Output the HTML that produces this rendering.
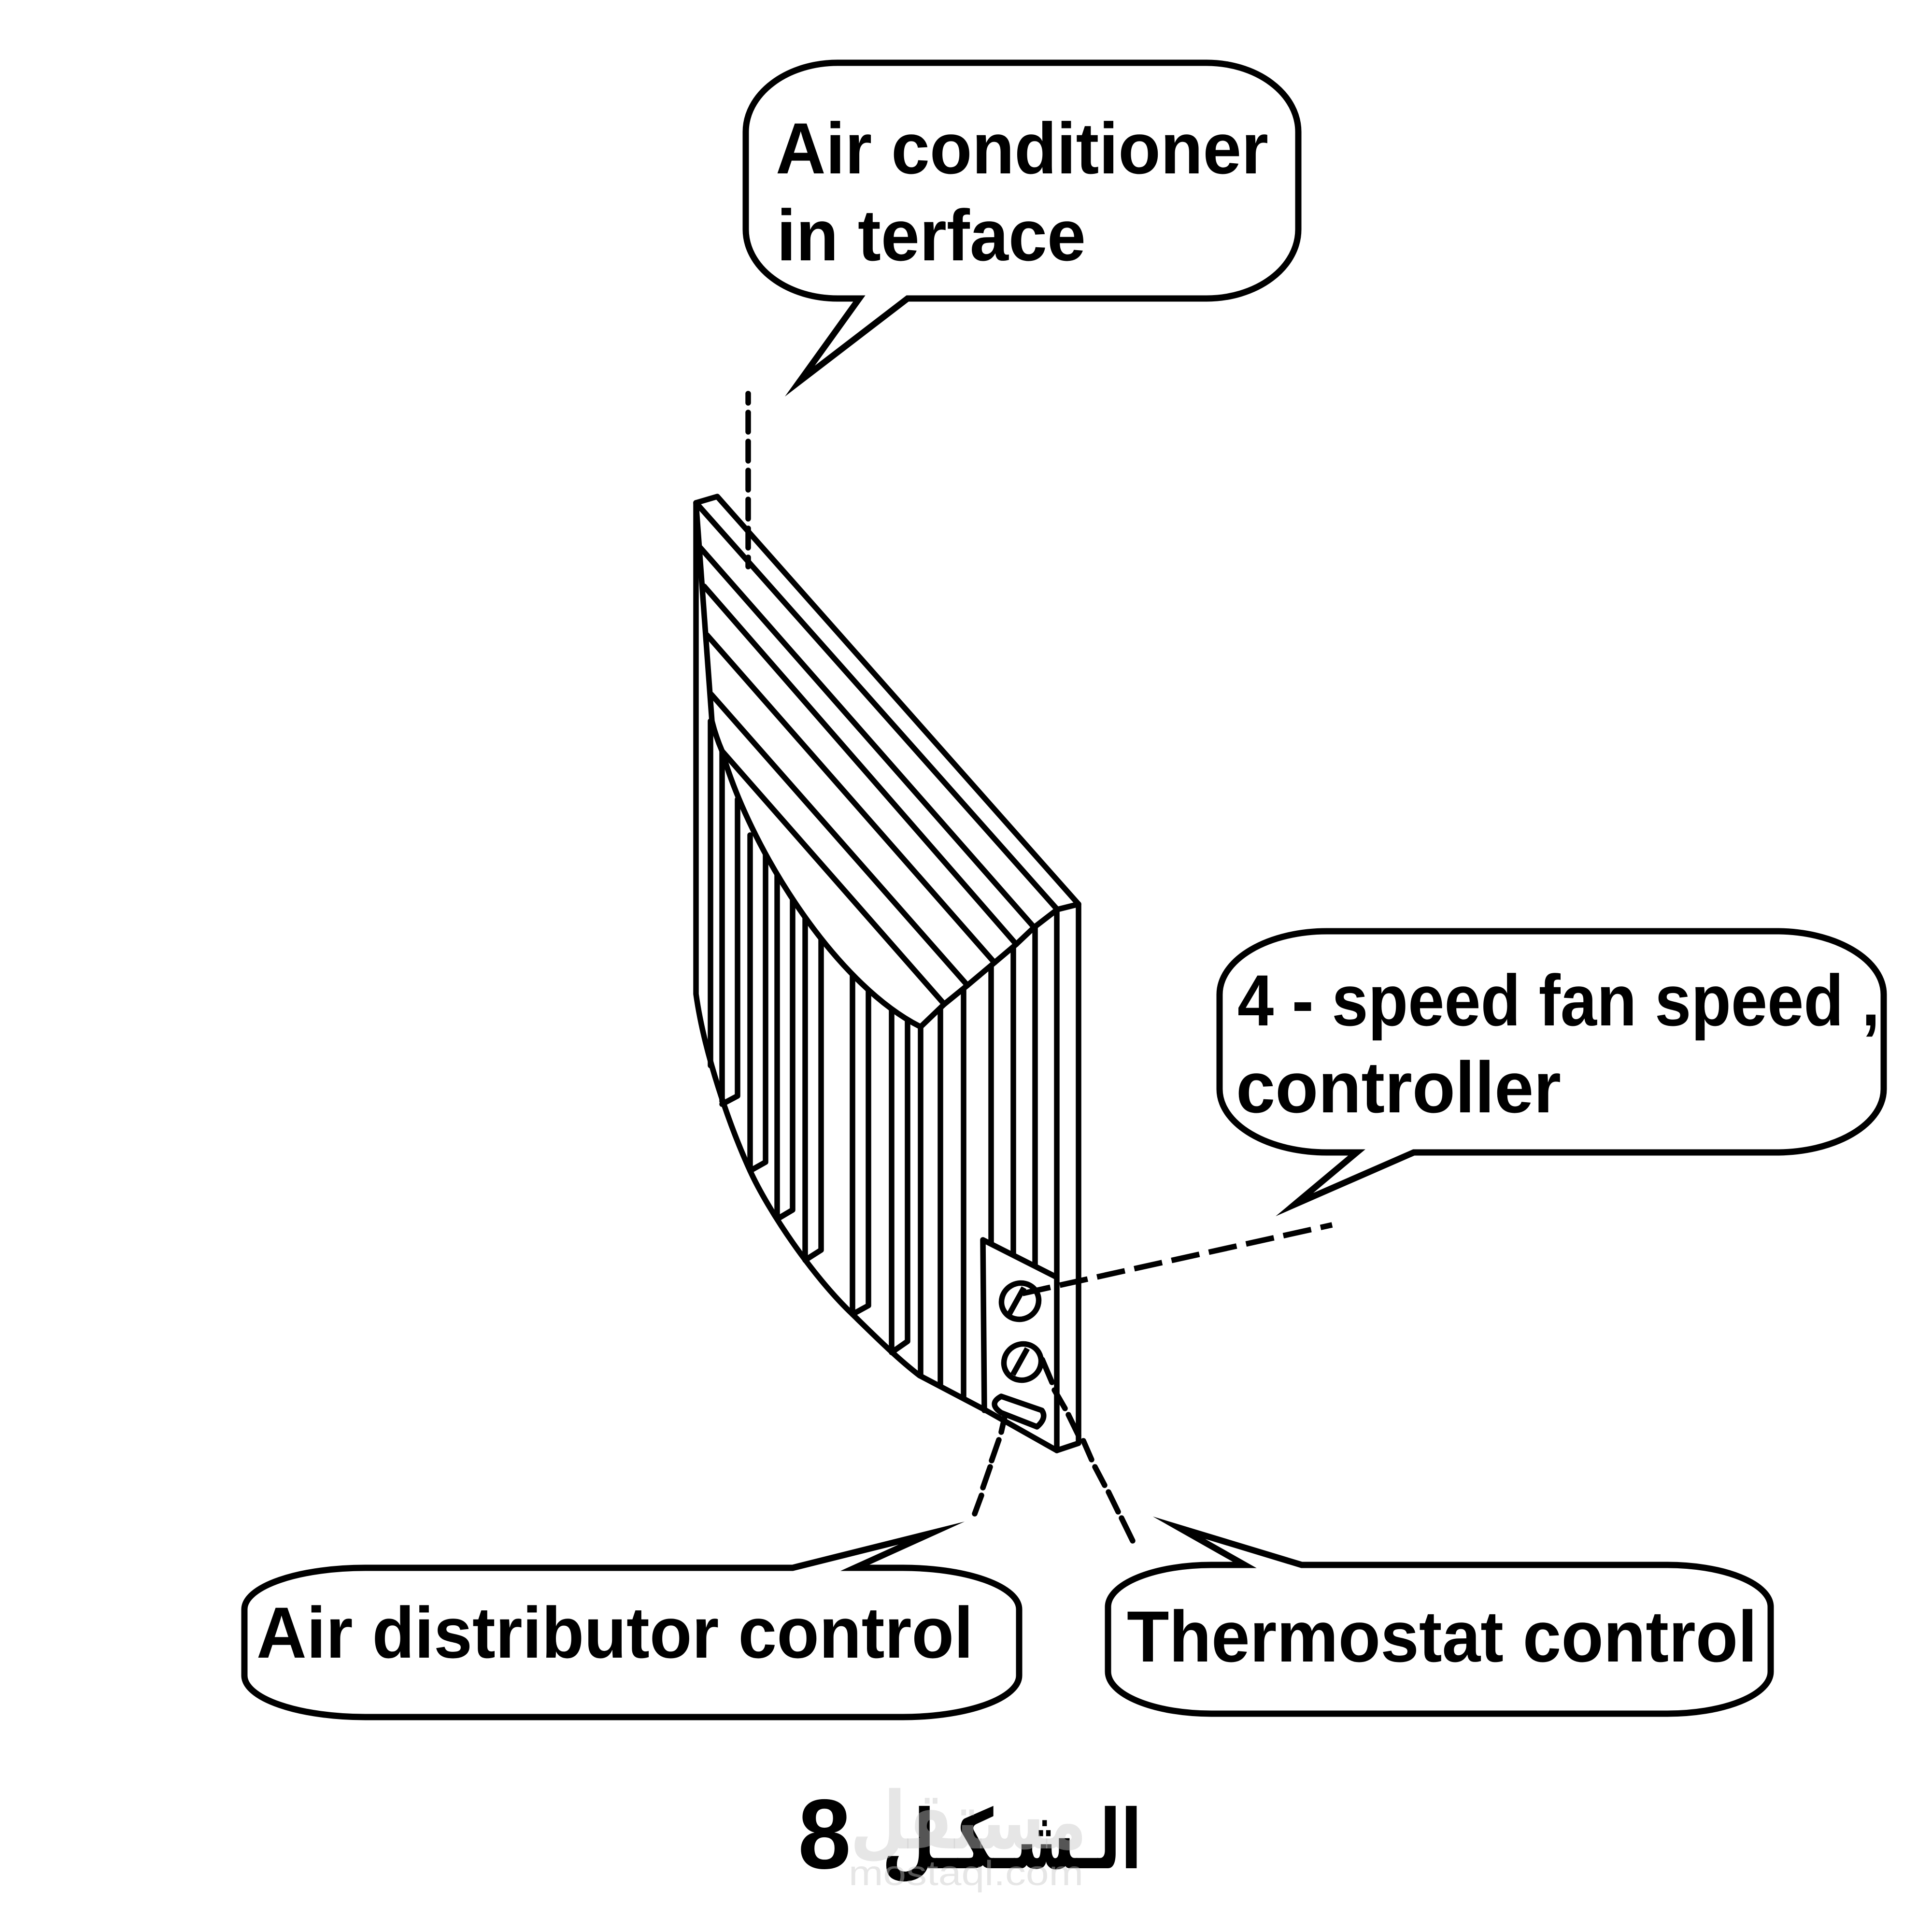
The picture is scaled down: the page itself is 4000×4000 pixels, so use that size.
<!DOCTYPE html>
<html><head><meta charset="utf-8"><style>html,body{margin:0;padding:0;background:#fff}svg{display:block}</style></head>
<body>
<svg xmlns="http://www.w3.org/2000/svg" width="4000" height="4000" viewBox="0 0 4000 4000">
<rect width="4000" height="4000" fill="#fff"/>
<g fill="none" stroke="#000" stroke-width="11.5" stroke-linejoin="round" stroke-linecap="round">
<!-- verticals -->
<path d="M1471 1493V2206M1495 1555V2280M1527 1655V2269L1495 2286M1553 1729V2424M1585 1767V2406L1553 2424M1609 1804V2524M1641 1854V2505L1609 2524M1667 1891V2609M1700 1933V2588L1667 2609M1765 2003V2721M1798 2036V2703L1765 2721M1846 2082V2800M1879 2107V2777L1846 2800M1906 2126V2848M1947 2085V2866M1995 2045V2891M2052 1995V2572M2098 1958V2597M2143 1920V2617M2188 1883V3003"/>
<!-- outer -->
<path d="M1441 1041V2058C1458 2180 1510 2330 1553 2424C1590 2505 1680 2640 1765 2721C1810 2765 1857 2812 1904 2848L2041 2920L2188 3003L2233 2988V1872"/>
<!-- top face (white fill hides the vertical tips) -->
<path fill="#fff" d="M1441 1041L1474 1493Q1482 1525 1495 1555C1550 1750 1725 2035 1906 2126L1955 2079L2003 2040L2059 1993L2104 1955L2141 1920L2189 1883L2233 1872L1485 1028Z"/>
<path d="M1441 1041L2189 1883M1450 1134L2141 1920M1458 1214L2104 1955M1464 1315L2059 1993M1473 1438L2003 2040M1495 1555L1955 2079"/>
<!-- panel -->
<path d="M2038 2920L2035 2567L2187 2644"/>
<ellipse cx="2112" cy="2694" rx="37" ry="39" transform="rotate(60 2112 2694)"/>
<ellipse cx="2117" cy="2820" rx="37" ry="39" transform="rotate(60 2117 2820)"/>
<path d="M2090 2720L2120 2666M2097 2846L2127 2792" stroke-linecap="butt"/>
<path d="M2073 2891L2157 2920Q2168 2936 2147 2954L2073 2925Q2045 2906 2073 2891Z"/>
<!-- dashes -->
<line x1="1549" y1="815" x2="1549" y2="1173" stroke-dasharray="40 20" stroke-dashoffset="21"/>
<line x1="2117" y1="2678" x2="2758" y2="2536" stroke-linecap="butt" stroke-dasharray="59 20"/>
<path d="M2158 2815L2178 2862M2183 2878L2205 2916M2212 2929L2233 2972M2243 2983L2260 3022M2267 3037L2287 3075M2295 3089L2315 3130M2322 3143L2345 3190"/>
<path d="M2080 2934L2073 2965M2068 2981L2053 3024M2050 3037L2035 3080M2032 3096L2018 3134"/>
</g>
<!-- bubbles -->
<g fill="#fff" stroke="#000" stroke-width="13" stroke-linejoin="miter" stroke-miterlimit="30">
<path d="M1734 130H2498A190 143 0 0 1 2688 273V475A190 143 0 0 1 2498 618H1879L1656 789L1779 618H1734A190 143 0 0 1 1544 475V273A190 143 0 0 1 1734 130Z"/>
<path d="M2747 1928H3678A222 131 0 0 1 3900 2059V2255A222 131 0 0 1 3678 2386H2927L2680 2494L2809 2386H2747A222 131 0 0 1 2525 2255V2059A222 131 0 0 1 2747 1928Z"/>
<path d="M756 3246H1641L1929 3174L1770 3246H1869A241 86 0 0 1 2110 3332V3469A241 86 0 0 1 1869 3555H756A250 86 0 0 1 506 3469V3332A250 86 0 0 1 756 3246Z"/>
<path d="M2508 3240H2577L2441 3163L2695 3240H3452A214 87 0 0 1 3666 3327V3461A214 87 0 0 1 3452 3548H2508A214 87 0 0 1 2294 3461V3327A214 87 0 0 1 2508 3240Z"/>
</g>
<!-- labels -->
<g font-family="'Liberation Sans',sans-serif" font-weight="700" font-size="150" fill="#000">
<text x="1606" y="359" textLength="1020" lengthAdjust="spacingAndGlyphs">Air conditioner</text>
<text x="1608" y="539" textLength="640" lengthAdjust="spacingAndGlyphs">in terface</text>
<text x="2562" y="2123" textLength="1330" lengthAdjust="spacingAndGlyphs">4 - speed fan speed ,</text>
<text x="2559" y="2303" textLength="673" lengthAdjust="spacingAndGlyphs">controller</text>
<text x="531" y="3432" textLength="1484" lengthAdjust="spacingAndGlyphs">Air distributor control</text>
<text x="2333" y="3440" textLength="1305" lengthAdjust="spacingAndGlyphs">Thermostat control</text>
<text x="1652" y="3868" font-size="205" textLength="110" lengthAdjust="spacingAndGlyphs">8</text>
</g>
<text x="2364" y="3868" direction="rtl" font-family="'DejaVu Sans',sans-serif" font-weight="700" font-size="170" fill="#000" textLength="538" lengthAdjust="spacingAndGlyphs">الـشـكـل</text>
<!-- watermark -->
<g fill="rgb(198,198,198)" fill-opacity="0.43">
<text x="2250" y="3827" direction="rtl" font-family="'DejaVu Sans',sans-serif" font-weight="700" font-size="165" textLength="490" lengthAdjust="spacingAndGlyphs">مستقل</text>
<text x="1757" y="3903" font-family="'Liberation Sans',sans-serif" font-size="72" font-weight="400" textLength="486" lengthAdjust="spacingAndGlyphs">mostaql.com</text>
</g>
</svg>
</body></html>
